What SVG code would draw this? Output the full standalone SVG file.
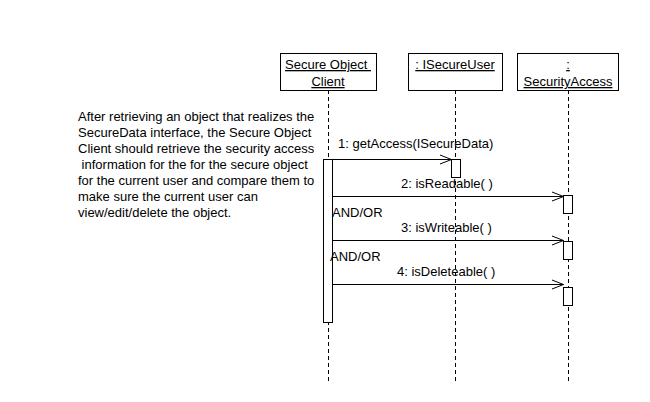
<svg xmlns="http://www.w3.org/2000/svg" width="650" height="402" viewBox="0 0 650 402">
<style>
  text { font-family: "Liberation Sans", Arial, sans-serif; font-size: 13px; fill: #000; }
  .u { text-decoration: underline; }
  .box { fill: #fff; stroke: #000; stroke-width: 1; }
  .life { stroke: #000; stroke-width: 1; stroke-dasharray: 4 3; fill: none; }
  .msg { stroke: #000; stroke-width: 1; fill: none; }
  .act { fill: #fff; stroke: #000; stroke-width: 1; }
</style>
<defs>
  <marker id="open" markerWidth="14" markerHeight="12" refX="12" refY="5.5" orient="auto" markerUnits="userSpaceOnUse">
    <path d="M0.5,1 L12,5.5 L0.5,10" fill="none" stroke="#000" stroke-width="1"/>
  </marker>
</defs>
<rect width="650" height="402" fill="#fff"/>

<g id="note">
  <text x="78" y="121">After retrieving an object that realizes the</text>
  <text x="78" y="137">SecureData interface, the Secure Object</text>
  <text x="78" y="153">Client should retrieve the security access</text>
  <text x="78" y="169" xml:space="preserve"> information for the for the secure object</text>
  <text x="78" y="185">for the current user and compare them to</text>
  <text x="78" y="201">make sure the current user can</text>
  <text x="78" y="217">view/edit/delete the object.</text>
</g>

<g id="lifelines">
  <line class="life" x1="328.5" y1="90" x2="328.5" y2="384"/>
  <line class="life" x1="455.5" y1="90" x2="455.5" y2="384"/>
  <line class="life" x1="568.5" y1="90" x2="568.5" y2="384"/>
</g>

<g id="client">
  <rect class="box" x="280.5" y="53.5" width="96" height="37"/>
  <text class="u" x="328" y="69" text-anchor="middle" xml:space="preserve">Secure Object </text>
  <text class="u" x="328" y="86" text-anchor="middle">Client</text>
  <rect class="act" x="323.5" y="159.5" width="9" height="163"/>
</g>

<g id="secureUser">
  <rect class="box" x="408.5" y="53.5" width="94" height="37"/>
  <text class="u" x="455" y="69" text-anchor="middle">: ISecureUser</text>
  <rect class="act" x="451.5" y="159.5" width="9" height="18"/>
</g>

<g id="securityAccess">
  <rect class="box" x="517.5" y="53.5" width="101" height="37"/>
  <text class="u" x="568" y="69" text-anchor="middle">:</text>
  <text class="u" x="568" y="86" text-anchor="middle">SecurityAccess</text>
  <rect class="act" x="563.5" y="195.5" width="9" height="18"/>
  <rect class="act" x="563.5" y="241.5" width="9" height="18"/>
  <rect class="act" x="563.5" y="287.5" width="9" height="18"/>
</g>

<g id="connectors">
  <line class="msg" x1="332.5" y1="159.5" x2="451.5" y2="159.5" marker-end="url(#open)"/>
  <line class="msg" x1="332.5" y1="196.5" x2="563.5" y2="196.5" marker-end="url(#open)"/>
  <line class="msg" x1="332.5" y1="240.5" x2="563.5" y2="240.5" marker-end="url(#open)"/>
  <line class="msg" x1="332.5" y1="284.5" x2="563.5" y2="284.5" marker-end="url(#open)"/>
  <text x="338" y="148">1: getAccess(ISecureData)</text>
  <text x="401" y="188">2: isReadable( )</text>
  <text x="332" y="217">AND/OR</text>
  <text x="401" y="232">3: isWriteable( )</text>
  <text x="330" y="261">AND/OR</text>
  <text x="397" y="276">4: isDeleteable( )</text>
</g>
</svg>
